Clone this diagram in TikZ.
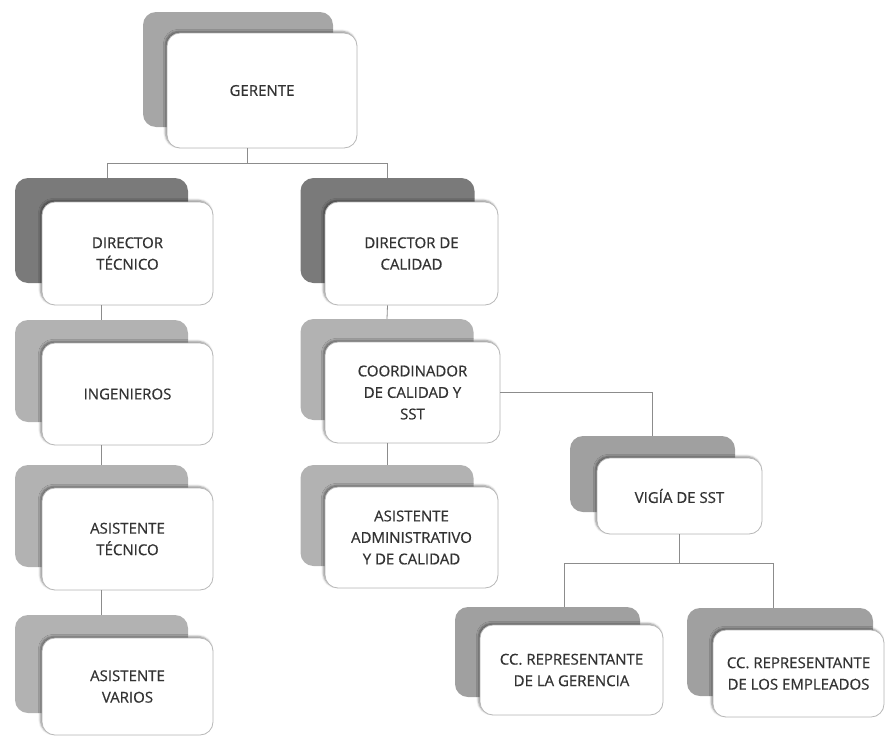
\documentclass[tikz,border=0pt]{standalone}
\usepackage{fontspec}
\setmainfont{Open Sans}[FakeBold=0.6]
\usetikzlibrary{shadows.blur}
\definecolor{txt}{HTML}{333333}
\definecolor{edge}{HTML}{B8B8B8}
\definecolor{wire}{HTML}{8C8C8C}
\definecolor{backA}{HTML}{A6A6A6}
\definecolor{backB}{HTML}{7A7A7A}
\definecolor{backC}{HTML}{B2B2B2}
\definecolor{backD}{HTML}{A0A0A0}
\tikzset{
  back/.style={rectangle, rounded corners=13pt, inner sep=0pt, draw=none},
  card/.style={rectangle, rounded corners=13pt, fill=white, draw=edge, line width=0.8pt,
    inner sep=0pt, align=center, text=txt, font=\fontsize{15}{21.5}\selectfont,
    blur shadow={shadow xshift=-1.6pt, shadow yshift=1.6pt, shadow blur steps=5, shadow opacity=45}},
  wire/.style={draw=wire, line width=0.8pt},
}
\begin{document}
\begin{tikzpicture}[x=1pt, y=-1pt]
\useasboundingbox (0,0) rectangle (886,736);

% ---- back plates ----
\node[back, fill=backA, minimum width=190pt, minimum height=115pt] (gerS) at (238,69.5) {};
\node[back, fill=backB, minimum width=173pt, minimum height=105pt] (dtS)  at (101.5,230.5) {};
\node[back, fill=backB, minimum width=174pt, minimum height=105pt] (dcS)  at (387.5,230.5) {};
\node[back, fill=backC, minimum width=173pt, minimum height=102pt] (ingS) at (101.5,371) {};
\node[back, fill=backC, minimum width=173pt, minimum height=102pt] (atS)  at (101.5,516) {};
\node[back, fill=backC, minimum width=173pt, minimum height=98pt]  (avS)  at (101.5,664) {};
\node[back, fill=backC, minimum width=173pt, minimum height=101pt] (coS)  at (387,369.5) {};
\node[back, fill=backC, minimum width=173pt, minimum height=101pt] (aaS)  at (387,515.5) {};
\node[back, fill=backD, minimum width=165pt, minimum height=76pt]  (viS)  at (652.5,474) {};
\node[back, fill=backD, minimum width=185pt, minimum height=90pt]  (cgS)  at (547.5,652) {};
\node[back, fill=backD, minimum width=186pt, minimum height=88pt]  (ceS)  at (780,652) {};

% ---- front cards ----
\node[card, minimum width=190pt, minimum height=115pt] (ger) at (262,90.5) {GERENTE};
\node[card, minimum width=171pt, minimum height=103pt] (dt)  at (127.5,253.5) {DIRECTOR\\TÉCNICO};
\node[card, minimum width=173pt, minimum height=103pt] (dc)  at (411.5,253.5) {DIRECTOR DE\\CALIDAD};
\node[card, minimum width=171pt, minimum height=102pt] (ing) at (127.5,394) {INGENIEROS};
\node[card, minimum width=171pt, minimum height=102pt] (at)  at (127.5,539) {ASISTENTE\\TÉCNICO};
\node[card, minimum width=171pt, minimum height=97pt]  (av)  at (127.5,686.5) {ASISTENTE\\VARIOS};
\node[card, minimum width=175pt, minimum height=101pt] (co)  at (412.5,392.5) {COORDINADOR\\DE CALIDAD Y\\SST};
\node[card, minimum width=173pt, minimum height=101pt] (aa)  at (411.5,537.5) {ASISTENTE\\ADMINISTRATIVO\\Y DE CALIDAD};
\node[card, minimum width=165pt, minimum height=76pt]  (vi)  at (679.5,496) {VIGÍA DE SST};
\node[card, minimum width=183pt, minimum height=90pt]  (cg)  at (571.5,670) {CC. REPRESENTANTE\\DE LA GERENCIA};
\node[card, minimum width=171pt, minimum height=87pt]  (ce)  at (798.5,673.5) {CC. REPRESENTANTE\\DE LOS EMPLEADOS};

% ---- connectors ----
\draw[wire] ([xshift=-15pt]ger.south) -- ++(0,15) coordinate (gj);
\draw[wire] (gj) -| ([xshift=6pt]dtS.north);
\draw[wire] (gj) -| (dcS.north);
\draw[wire] (dtS.south |- dt.south) -- (ingS.north);
\draw[wire] (ingS.south |- ing.south) -- (atS.north);
\draw[wire] (atS.south |- at.south) -- (avS.north);
\draw[wire] (dcS.south |- dc.south) -- (coS.north);
\draw[wire] (coS.south |- co.south) -- (aaS.north);
\draw[wire] (co.east) -| (viS.north);
\draw[wire] (vi.south) -- ++(0,29) coordinate (vj);
\draw[wire] (vj) -| ([xshift=16.5pt]cgS.north);
\draw[wire] (vj) -| ([xshift=-7pt]ceS.north);
\end{tikzpicture}
\end{document}
